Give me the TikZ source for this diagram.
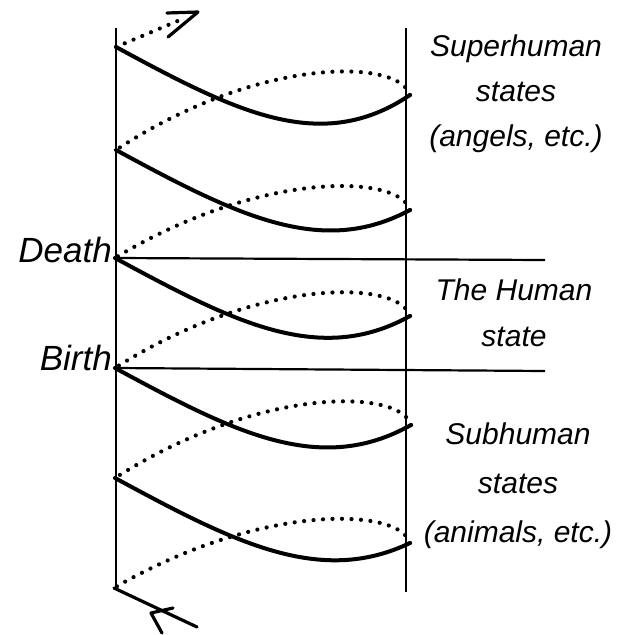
\documentclass[tikz,border=0pt]{standalone}
\usepackage{fontspec}
\setmainfont{Liberation Sans}
\usetikzlibrary{calc}
\begin{document}
\begin{tikzpicture}[x=1pt,y=-1pt,
  front/.style={line width=4pt,line cap=round,line join=round},
  back/.style={line width=4.2pt,line cap=round,dash pattern=on 0pt off 9.5pt},
  axis/.style={line width=2.6pt},
  level/.style={line width=2.2pt},
  tipstroke/.style={line width=3.2pt,line cap=round,line join=round},
  lbl/.style={font=\itshape\fontsize{30}{45}\selectfont,align=center,inner sep=0pt},
  side/.style={font=\itshape\fontsize{35}{40}\selectfont,inner sep=0pt,anchor=east}]
\useasboundingbox (0,0) rectangle (631,635);
% spiral turning points
\coordinate (L1) at (116,47);  \coordinate (R1) at (410,95);
\coordinate (L2) at (116,150); \coordinate (R2) at (410,210);
\coordinate (L3) at (115,258); \coordinate (R3) at (410,316);
\coordinate (L4) at (115,368); \coordinate (R4) at (411,425);
\coordinate (L5) at (115,478); \coordinate (R5) at (410,543);
\coordinate (L6) at (114,588);
% axes
\coordinate (at) at (116,28); \coordinate (ab) at (116,590);
\coordinate (bt) at (406,28); \coordinate (bb) at (406,592);
\draw[axis] (at) -- (ab);
\draw[axis] (bt) -- (bb);
% level lines
\coordinate (de) at (545,260); \coordinate (be) at (545,371);
\draw[level] (L3) -- (de);
\draw[level] (L4) -- (be);
% front (solid) half-turns
\foreach \a/\b in {L1/R1,L2/R2,L3/R3,L4/R4,L5/R5}{
  \draw[front] (\a) .. controls ($(\a)+(120,65)$) and ($(\a)+(205,108)$) .. (\b);
}
% back (dotted) half-turns
\foreach \a/\b in {R1/L2,R2/L3,R3/L4,R4/L5,R5/L6}{
  \draw[back] (\a) .. controls ($(\a)+(-10,-36)$) and ($(\a)+(-150,-40)$) .. (\b);
}
% top arrow
\coordinate (tp) at (180,20);
\coordinate (h1) at (167,13); \coordinate (h2) at (198,12); \coordinate (h3) at (168,37);
\draw[back] (L1) -- (tp);
\draw[tipstroke] (h1) -- (h2) -- (h3);
% bottom arrow
\coordinate (bend) at (197,627);
\coordinate (k0) at (151,613); \coordinate (k1) at (173,608); \coordinate (k2) at (162,633);
\draw[front,line width=3.2pt] (L6) -- (bend);
\draw[tipstroke] (k1) -- (k0) -- (k2);
% labels
\node[lbl] (sup) at (516,94) {Superhuman\\states\\(angels, etc.)};
\node[lbl,font=\itshape\fontsize{30}{46}\selectfont] (hum) at (514,313) {The Human\\state};
\node[lbl,font=\itshape\fontsize{30}{49}\selectfont] (sub) at (518,486) {Subhuman\\states\\(animals, etc.)};
\node[side] (death) at (112,250) {Death};
\node[side] (birth) at (112,358) {Birth};
\end{tikzpicture}
\end{document}
